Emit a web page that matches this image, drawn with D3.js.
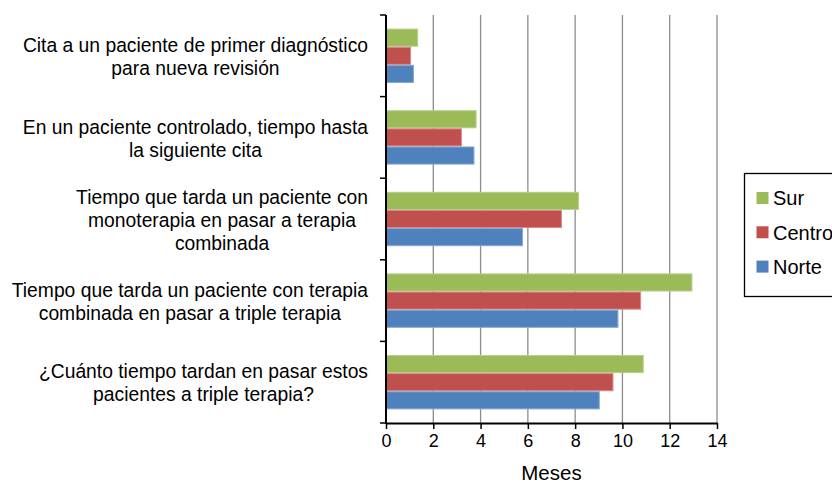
<!DOCTYPE html>
<html>
<head>
<meta charset="utf-8">
<script src="https://cdn.jsdelivr.net/npm/d3@7"></script>
<style>
  body { margin: 0; background: #fff; }
  svg { font-family: "Liberation Sans", Arial, Helvetica, sans-serif; }
</style>
</head>
<body>
<svg width="832" height="483"></svg>
<script>
// categories, top to bottom; "\n" marks the line breaks seen in the picture
var categories = [
  "Cita a un paciente de primer diagnóstico\npara nueva revisión",
  "En un paciente controlado, tiempo hasta\nla siguiente cita",
  "Tiempo que tarda un paciente con\nmonoterapia en pasar a terapia\ncombinada",
  "Tiempo que tarda un paciente con terapia\ncombinada en pasar a triple terapia",
  "¿Cuánto tiempo tardan en pasar estos\npacientes a triple terapia?"
];
var seriesNames = ["Sur", "Centro", "Norte"];
var sur    = [1.34, 3.81, 8.14, 12.94, 10.88];
var centro = [1.04, 3.19, 7.42, 10.77, 9.60];
var norte  = [1.16, 3.72, 5.77, 9.81, 9.02];
var xTicks = [0, 2, 4, 6, 8, 10, 12, 14];
var axisTitle = "Meses";

var seriesValues = [sur, centro, norte];
var colors = ["#9BBB59", "#C0504D", "#4F81BD"];
var borders = ["#b5d08a", "#d98a88", "#86a8d4"];

var svg = d3.select("svg");
var plotL = 386, plotR = 717, plotT = 15, plotB = 423;
var tickFont = 18, labelFont = 19.3, legendFont = 20, titleFont = 20.5;

var x = d3.scaleLinear().domain([0, 14]).range([plotL, plotR]);
var y = d3.scaleBand().domain(d3.range(categories.length)).range([plotT, plotB]);
// Excel gap width 150%: the 3 bars fill 3/4.5 of each band
var pad = y.bandwidth() * 0.75 / 4.5;
var inner = d3.scaleBand().domain(d3.range(3)).range([pad, y.bandwidth() - pad]);

// gridlines
svg.append("g").selectAll("line")
  .data(xTicks.slice(1))
  .join("line")
  .attr("x1", function(d){ return x(d); })
  .attr("x2", function(d){ return x(d); })
  .attr("y1", plotT)
  .attr("y2", plotB)
  .attr("stroke", "#8c8c8c")
  .attr("stroke-width", 1.3);

// bars
var groups = svg.append("g").selectAll("g")
  .data(categories)
  .join("g")
  .attr("transform", function(d, i){ return "translate(0," + y(i) + ")"; });

groups.each(function(c, i){
  var g = d3.select(this);
  seriesValues.forEach(function(vals, s){
    g.append("rect")
      .attr("x", x(0))
      .attr("y", inner(s) + 0.5)
      .attr("width", x(vals[i]) - x(0))
      .attr("height", inner.bandwidth() - 1)
      .attr("fill", colors[s])
      .attr("stroke", borders[s])
      .attr("stroke-width", 1);
  });
});

// x axis
var xAxis = svg.append("g")
  .attr("transform", "translate(0," + plotB + ")")
  .call(d3.axisBottom(x).tickValues(xTicks).tickSize(6).tickSizeOuter(0));
xAxis.select(".domain").attr("stroke", "#000").attr("stroke-width", 2);
xAxis.selectAll(".tick line").attr("stroke", "#000").attr("stroke-width", 1.5);
xAxis.selectAll("text").attr("font-size", tickFont).attr("fill", "#000").attr("dy", "0.85em")
  .attr("font-family", "Liberation Sans, Arial, sans-serif");

// y axis (ticks at category boundaries)
var boundaries = d3.range(categories.length + 1).map(function(i){ return plotT + i * y.step(); });
svg.append("line")
  .attr("x1", plotL).attr("x2", plotL)
  .attr("y1", plotT).attr("y2", plotB + 1)
  .attr("stroke", "#000").attr("stroke-width", 2);
svg.append("g").selectAll("line")
  .data(boundaries)
  .join("line")
  .attr("x1", plotL - 6).attr("x2", plotL)
  .attr("y1", function(d){ return d; })
  .attr("y2", function(d){ return d; })
  .attr("stroke", "#000").attr("stroke-width", 1.5);

// category labels, centred lines with the widest one ending near the axis
var lineH = 23;
var labels = svg.append("g").attr("font-size", labelFont).attr("fill", "#000");
categories.forEach(function(c, i){
  var lines = c.split("\n");
  var t = labels.append("text").attr("text-anchor", "middle");
  var cy = y(i) + y.bandwidth() / 2;
  lines.forEach(function(l, k){
    t.append("tspan")
      .attr("x", 0)
      .attr("y", cy + (k - (lines.length - 1) / 2) * lineH)
      .attr("dy", "0.4em")
      .text(l);
  });
  var w = d3.max(t.selectAll("tspan").nodes(), function(n){ return n.getComputedTextLength(); });
  t.selectAll("tspan").attr("x", 368 - w / 2);
});

// axis title
svg.append("text")
  .attr("x", (plotL + plotR) / 2)
  .attr("y", 480)
  .attr("text-anchor", "middle")
  .attr("font-size", titleFont)
  .text(axisTitle);

// legend
var legend = svg.append("g").attr("transform", "translate(744,173)");
legend.append("rect")
  .attr("x", 0.5).attr("y", 0.5)
  .attr("width", 120).attr("height", 123)
  .attr("fill", "#fff")
  .attr("stroke", "#000").attr("stroke-width", 1.3);
seriesNames.forEach(function(n, s){
  var ly = 25 + s * 34.3;
  legend.append("rect")
    .attr("x", 12.5).attr("y", ly - 6)
    .attr("width", 12).attr("height", 12)
    .attr("fill", colors[s]);
  legend.append("text")
    .attr("x", 29).attr("y", ly)
    .attr("dy", "0.36em")
    .attr("font-size", legendFont)
    .text(n);
});
</script>
</body>
</html>
